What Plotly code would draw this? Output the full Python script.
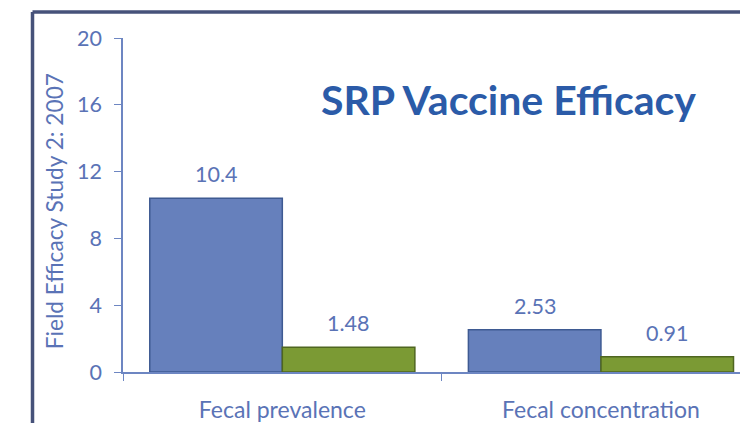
import plotly.graph_objects as go

categories = ["Fecal prevalence", "Fecal concentration"]
series_a = [10.4, 2.53]
series_b = [1.48, 0.91]
y_ticks = [0, 4, 8, 12, 16, 20]

FONT = "Lato"
LABEL_C = "#5a73b6"
AXIS_C = "#6d86c2"

fig = go.Figure()
fig.add_trace(go.Bar(x=categories, y=series_a, name="A",
                     marker=dict(color="#6680bc", line=dict(color="#3e5a92", width=1.5))))
fig.add_trace(go.Bar(x=categories, y=series_b, name="B",
                     marker=dict(color="#7b9a34", line=dict(color="#4f6620", width=1.5))))

annotations = []
for cat, va, vb in zip(categories, series_a, series_b):
    for v, xs in ((va, -66), (vb, 66)):
        annotations.append(dict(x=cat, y=v, xref="x", yref="y", text=f"{v:g}",
                                showarrow=False, xshift=xs, xanchor="center",
                                yanchor="bottom", yshift=9,
                                font=dict(family=FONT, size=21.5, color=LABEL_C)))

annotations.append(dict(x=0.617, y=0.815, xref="paper", yref="paper",
                        xanchor="center", yanchor="middle",
                        text="<b>SRP Vaccine Efficacy</b>", showarrow=False,
                        font=dict(family=FONT, size=41, color="#2b5ba8")))
annotations.append(dict(x=-0.110, y=0.482, xref="paper", yref="paper",
                        xanchor="center", yanchor="middle",
                        text="Field Efficacy Study 2: 2007", showarrow=False, textangle=-90,
                        font=dict(family=FONT, size=22.7, color=LABEL_C)))

frame_c = "#46527a"
shapes = [
    dict(type="line", xref="paper", yref="paper", x0=-0.1448, x1=1.2, y0=1.0777, y1=1.0777,
         line=dict(color=frame_c, width=3.5)),
    dict(type="line", xref="paper", yref="paper", x0=-0.1448, x1=-0.1448, y0=1.0777, y1=-0.3,
         line=dict(color=frame_c, width=3.5)),
]

# page has an 8px body margin, so the figure is 740x415 placed at (8, 8)
fig.update_layout(
    width=740, height=415,
    margin=dict(l=115, r=0, t=30, b=49),
    paper_bgcolor="white", plot_bgcolor="white",
    barmode="group", bargap=0.168, bargroupgap=0,
    showlegend=False,
    annotations=annotations, shapes=shapes,
    font=dict(family=FONT, color=LABEL_C),
)
fig.update_xaxes(range=[-0.5, 1.4615], showline=True, linecolor=AXIS_C, linewidth=1.5,
                 ticks="outside", tickson="boundaries", ticklen=7, tickcolor=AXIS_C,
                 tickfont=dict(family=FONT, size=23, color=LABEL_C), ticklabelstandoff=17,
                 showgrid=False, zeroline=False)
fig.update_yaxes(range=[0, 20], tickvals=y_ticks, showline=True, linecolor=AXIS_C, linewidth=1.5,
                 ticks="outside", ticklen=7, tickcolor=AXIS_C,
                 tickfont=dict(family=FONT, size=21.5, color=LABEL_C), ticklabelstandoff=8,
                 showgrid=False, zeroline=False)

fig.write_html("out.html")
